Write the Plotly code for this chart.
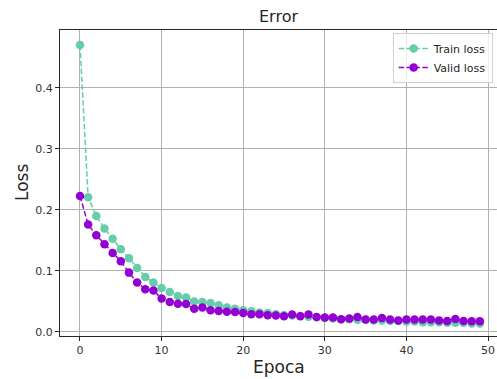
import plotly.graph_objects as go

epochs = list(range(50))
train_loss = [0.4705, 0.221, 0.190, 0.1695, 0.153, 0.1356, 0.121, 0.105, 0.090, 0.081,
              0.072, 0.0656, 0.059, 0.0564, 0.050, 0.049, 0.0475, 0.0438, 0.040, 0.038,
              0.0356, 0.034, 0.032, 0.031, 0.029, 0.028, 0.027, 0.026, 0.025, 0.024,
              0.023, 0.022, 0.021, 0.021, 0.020, 0.020, 0.019, 0.019, 0.018, 0.018,
              0.017, 0.017, 0.016, 0.016, 0.016, 0.015, 0.015, 0.015, 0.014, 0.014]
valid_loss = [0.223, 0.176, 0.1585, 0.144, 0.1295, 0.116, 0.0973, 0.081, 0.070, 0.068,
              0.0547, 0.049, 0.0462, 0.0458, 0.038, 0.040, 0.0356, 0.0344, 0.033, 0.0328,
              0.031, 0.029, 0.029, 0.0274, 0.027, 0.0257, 0.0285, 0.0257, 0.0285, 0.0246,
              0.0236, 0.0236, 0.0208, 0.022, 0.0246, 0.0203, 0.0203, 0.023, 0.0203, 0.019,
              0.0203, 0.0203, 0.0203, 0.0203, 0.019, 0.018, 0.0213, 0.018, 0.0175, 0.0175]
x_ticks = [0, 10, 20, 30, 40, 50]
y_ticks = [0.0, 0.1, 0.2, 0.3, 0.4]

train_color = "#66CDAA"
valid_color = "#9400D3"
font_family = "DejaVu Sans"

fig = go.Figure()
fig.add_trace(go.Scatter(x=epochs, y=train_loss, mode="lines+markers", name="Train loss",
                         line=dict(color=train_color, width=1.5, dash="5.5px,2.4px"),
                         marker=dict(color=train_color, size=8.5)))
fig.add_trace(go.Scatter(x=epochs, y=valid_loss, mode="lines+markers", name="Valid loss",
                         line=dict(color=valid_color, width=1.5, dash="5.5px,2.4px"),
                         marker=dict(color=valid_color, size=8.5)))

fig.update_layout(
    width=497, height=379,
    margin=dict(l=60, r=0, t=30, b=43, autoexpand=False),
    paper_bgcolor="white", plot_bgcolor="white",
    font=dict(family=font_family, color="#262626", size=11),
    title=dict(text="Error", x=0.5, xref="paper", xanchor="center",
               y=1 - 16.5 / 379, yref="container", yanchor="middle",
               font=dict(size=16, color="#262626")),
    legend=dict(x=0.99, xanchor="right", y=0.99, yanchor="top",
                bgcolor="rgba(255,255,255,0.8)", bordercolor="#d0d0d0", borderwidth=1,
                font=dict(size=11, color="#262626"), tracegroupgap=0,
                itemwidth=30),
    showlegend=True,
    annotations=[
        dict(text="Epoca", x=0.5, xref="paper", y=0, yref="paper",
             xanchor="center", yanchor="middle", yshift=-31, showarrow=False,
             font=dict(size=17, color="#262626")),
        dict(text="Loss", x=0, xref="paper", y=0.5, yref="paper",
             xanchor="center", yanchor="middle", xshift=-38, textangle=-90,
             showarrow=False, font=dict(size=17, color="#262626")),
    ],
)
fig.update_xaxes(
    range=[-2.45, 51.1], tickvals=x_ticks, ticktext=[str(v) for v in x_ticks],
    showgrid=True, gridcolor="#b0b0b0", gridwidth=1, zeroline=False,
    showline=True, linecolor="#262626", linewidth=1, mirror=True,
    ticks="outside", ticklen=4, tickcolor="#262626",
    tickfont=dict(size=11, color="#333333"), automargin=False,
)
fig.update_yaxes(
    range=[-0.0066, 0.495], tickvals=y_ticks, ticktext=[f"{v:.1f}" for v in y_ticks],
    showgrid=True, gridcolor="#b0b0b0", gridwidth=1, zeroline=False,
    showline=True, linecolor="#262626", linewidth=1,
    ticks="outside", ticklen=4, tickcolor="#262626",
    tickfont=dict(size=11, color="#333333"), automargin=False,
)

fig.write_html("out.html", config={"displayModeBar": False},
               post_script="document.body.style.margin='0';document.body.style.overflow='hidden';")
